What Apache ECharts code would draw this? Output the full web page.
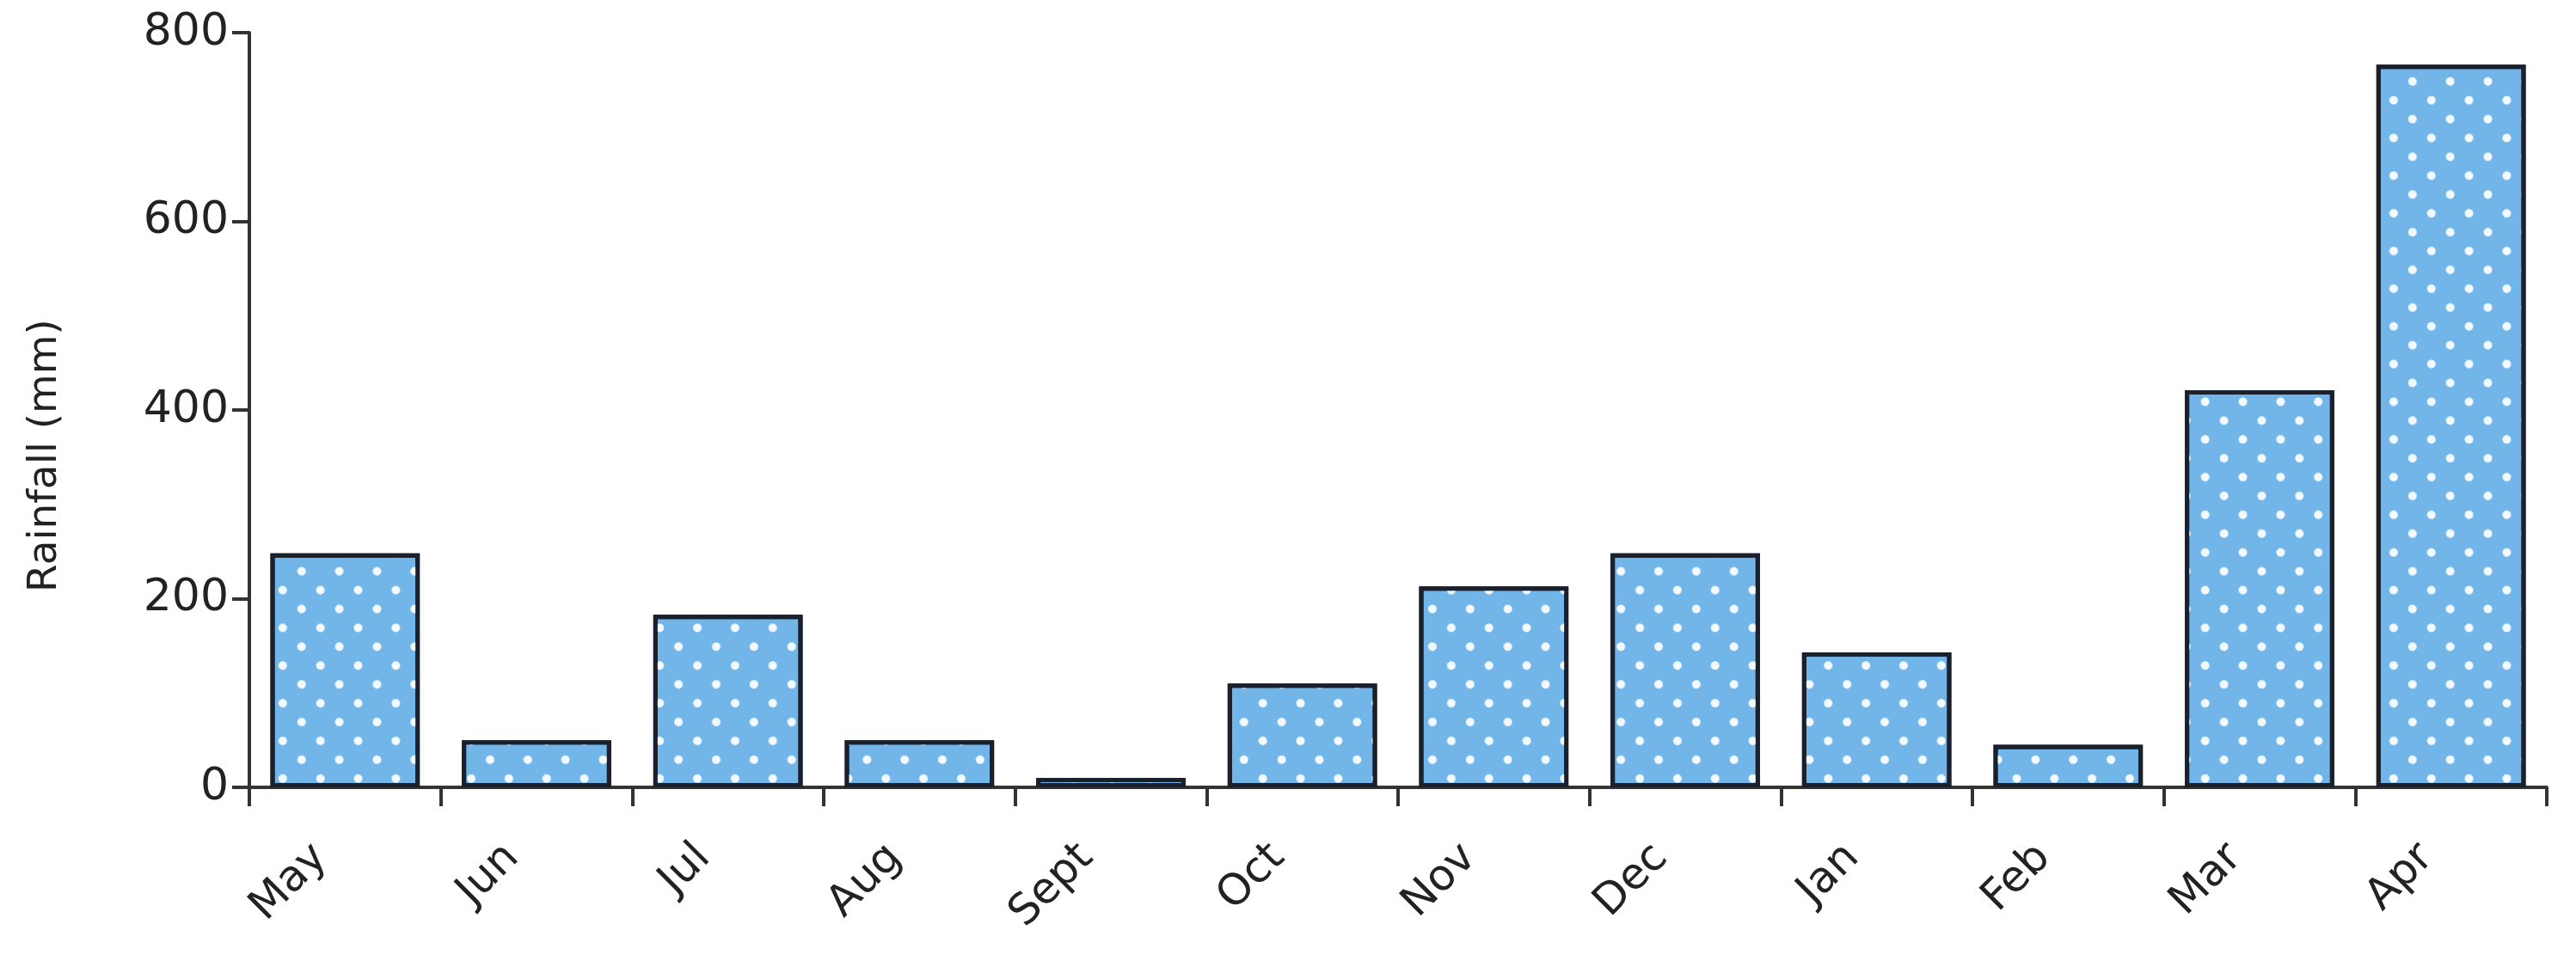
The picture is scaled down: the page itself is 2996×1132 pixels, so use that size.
<!DOCTYPE html>
<html>
<head>
<meta charset="utf-8">
<script src="https://cdn.jsdelivr.net/npm/echarts@6/dist/echarts.min.js"></script>
<style>
  html, body { margin: 0; padding: 0; background: #ffffff; }
  #chart { width: 2996px; height: 1132px; }
</style>
</head>
<body>
<div id="chart"></div>
<script>
const categories = ['May', 'Jun', 'Jul', 'Aug', 'Sept', 'Oct', 'Nov', 'Dec', 'Jan', 'Feb', 'Mar', 'Apr'];
const rainfall = [248, 50, 183, 50, 10, 110, 213, 248, 143, 45, 421, 766];
const yMin = 0;
const yMax = 800;
const yStep = 200;
const yAxisTitle = 'Rainfall (mm)';

const FONT = 'DejaVu Sans';
const AXIS_COLOR = '#333333';
const TEXT_COLOR = '#222222';

const chart = echarts.init(document.getElementById('chart'), null, { renderer: 'canvas' });
chart.setOption({
  backgroundColor: '#ffffff',
  animation: false,
  grid: { left: 290, right: 34, top: 38, bottom: 216, containLabel: false, outerBoundsMode: 'none' },
  xAxis: {
    type: 'category',
    data: categories,
    boundaryGap: true,
    axisLine: { show: true, lineStyle: { color: AXIS_COLOR, width: 4 } },
    axisTick: { show: true, inside: false, length: 22, alignWithLabel: false, lineStyle: { color: AXIS_COLOR, width: 4 } },
    axisLabel: { interval: 0, rotate: 45, margin: 46, color: TEXT_COLOR, fontFamily: FONT, fontSize: 50, padding: [0, 40, 0, 0] },
    splitLine: { show: false }
  },
  yAxis: {
    type: 'value',
    min: yMin,
    max: yMax,
    interval: yStep,
    name: yAxisTitle,
    nameLocation: 'middle',
    nameGap: 214,
    nameRotate: 90,
    nameTextStyle: { color: TEXT_COLOR, fontFamily: FONT, fontSize: 47, padding: [0, 106, 0, 0] },
    axisLine: { show: true, lineStyle: { color: AXIS_COLOR, width: 4 } },
    axisTick: { show: true, inside: false, length: 20, lineStyle: { color: AXIS_COLOR, width: 4 } },
    axisLabel: { margin: 24, color: TEXT_COLOR, fontFamily: FONT, fontSize: 52 },
    splitLine: { show: false }
  },
  series: [{
    type: 'bar',
    data: rainfall,
    barWidth: '78%',
    itemStyle: {
      color: '#72b5e8',
      borderColor: '#1a202c',
      borderWidth: 5,
      decal: {
        symbol: 'circle',
        symbolSize: 1,
        color: 'rgba(242,250,255,1)',
        dashArrayX: [10, 21],
        dashArrayY: [10, 21],
        rotation: Math.PI / 4
      }
    }
  }]
});
</script>
</body>
</html>
